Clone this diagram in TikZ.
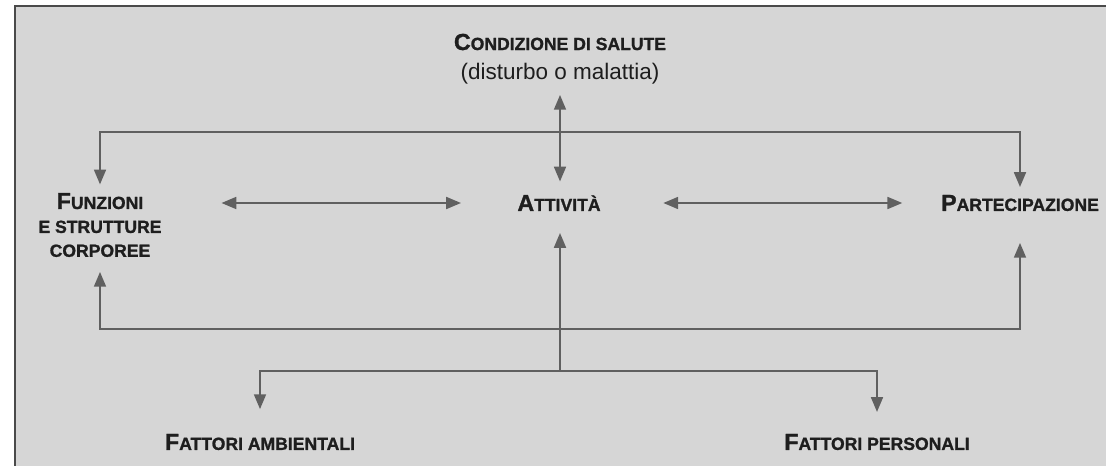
\documentclass[tikz,border=0pt]{standalone}
\usepackage{fontspec}
\setmainfont{Liberation Sans}[BoldFeatures={FakeBold=1.2}]
\usepackage{xcolor}
\usetikzlibrary{arrows.meta}
\definecolor{sfondo}{HTML}{D6D6D6}
\definecolor{testo}{HTML}{1E1E1E}
\definecolor{linea}{HTML}{606060}
\definecolor{bordo}{HTML}{4A4A4A}
\newcommand{\sctext}[2]{{\fontsize{16.5}{17}\selectfont #1}#2}

\begin{document}
\begin{tikzpicture}[x=0.025cm,y=-0.025cm,line width=1.3pt,
  lbl/.style={text=testo,font=\bfseries\fontsize{12.5}{17}\selectfont,align=center,inner sep=2pt},
  arr/.style={-{Triangle[length=10.5pt,width=8.5pt]},draw=linea},
  dblarr/.style={{Triangle[length=10.5pt,width=8.5pt]}-{Triangle[length=10.5pt,width=8.5pt]},draw=linea}]
\useasboundingbox (0,0) rectangle (1106,466);
\fill[sfondo] (15,6) rectangle (1106,466);
\draw[bordo,line width=1.4pt] (15,466) -- (15,6) -- (1106,6);

\node[lbl,font=\bfseries\fontsize{12.5}{21}\selectfont] (cond) at (560,59) {\sctext{C}{ONDIZIONE DI SALUTE}\\{\mdseries\fontsize{16}{21}\selectfont (disturbo o malattia)}};
\node[lbl] (act) at (559,203) {\sctext{A}{TTIVITÀ}};
\node[lbl] (fun) at (100,225) {\sctext{F}{UNZIONI}\\E STRUTTURE\\CORPOREE};
\node[lbl] (par) at (1020,203) {\sctext{P}{ARTECIPAZIONE}};
\node[lbl] (amb) at (260,442) {\sctext{F}{ATTORI AMBIENTALI}};
\node[lbl] (per) at (877,442) {\sctext{F}{ATTORI PERSONALI}};

\coordinate (topjoin) at (560,132);
\coordinate (midjoin) at (560,329);
\coordinate (lowjoin) at (560,371);

\draw[dblarr,shorten <=5pt,shorten >=7pt] (cond) -- (cond |- act.north);
\draw[arr,shorten >=3.5pt] (topjoin) -| (fun);
\draw[arr,shorten >=3pt] (topjoin) -| (par);
\draw[dblarr,shorten <=40pt,shorten >=37.5pt] (fun.east |- act) -- (act);
\draw[dblarr,shorten <=42pt,shorten >=25pt] (act) -- (par);
\draw[arr,shorten >=13pt] (lowjoin) -- (lowjoin |- act.south);
\draw[arr,shorten >=8pt] (midjoin) -| (fun);
\draw[arr,shorten >=20pt] (midjoin) -| (par);
\draw[arr,shorten >=15pt] (lowjoin) -| (amb);
\draw[arr,shorten >=13pt] (lowjoin) -| (per);

\end{tikzpicture}
\end{document}
